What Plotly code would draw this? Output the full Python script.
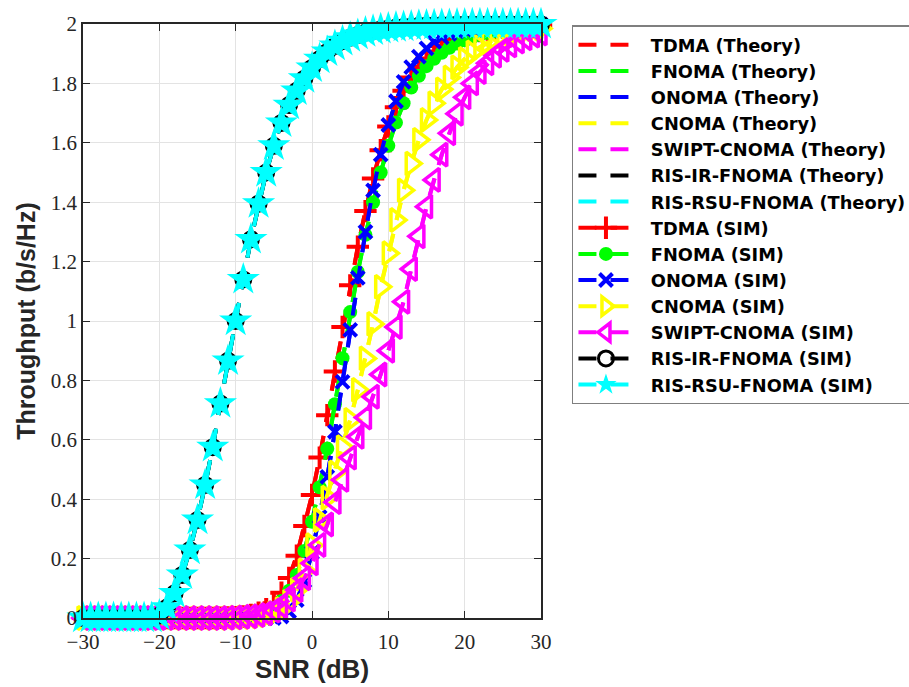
import plotly.graph_objects as go

# SNR grid (dB)
snr_db = list(range(-30, 31))

# Throughput (b/s/Hz) per scheme, one value per SNR point
tdma = [0]*18 + [0.001, 0.002, 0.003, 0.005, 0.010, 0.018, 0.030, 0.050, 0.085, 0.135,
                 0.210, 0.310, 0.414, 0.540, 0.683, 0.830, 0.980, 1.120, 1.250, 1.370,
                 1.480, 1.575, 1.655, 1.720, 1.775, 1.820, 1.855, 1.884, 1.907, 1.926,
                 1.941, 1.953, 1.962, 1.970, 1.976, 1.981, 1.985, 1.988, 1.990, 1.992,
                 1.994, 1.995, 1.996]
fnoma = [0]*19 + [0.001, 0.002, 0.003, 0.006, 0.011, 0.020, 0.034, 0.057, 0.092, 0.145,
                  0.226, 0.324, 0.440, 0.570, 0.720, 0.875, 1.030, 1.165, 1.290, 1.400,
                  1.500, 1.590, 1.668, 1.733, 1.786, 1.826, 1.858, 1.883, 1.903, 1.920,
                  1.934, 1.945, 1.955, 1.963, 1.970, 1.975, 1.980, 1.984, 1.987, 1.990,
                  1.992, 1.994]
onoma = [0]*26 + [0.005, 0.022, 0.060, 0.125, 0.220, 0.340, 0.475, 0.627, 0.795, 0.970,
                  1.145, 1.300, 1.440, 1.560, 1.660, 1.740, 1.805, 1.855, 1.890, 1.918,
                  1.940, 1.955, 1.967, 1.975, 1.981, 1.986, 1.989, 1.992, 1.994, 1.995,
                  1.996, 1.997, 1.998, 1.998, 1.999]
cnoma = [0]*20 + [0.001, 0.002, 0.003, 0.005, 0.009, 0.016, 0.030, 0.055, 0.095, 0.160,
                  0.245, 0.330, 0.405, 0.490, 0.575, 0.667, 0.768, 0.874, 0.990, 1.115,
                  1.228, 1.340, 1.440, 1.530, 1.610, 1.677, 1.733, 1.780, 1.820, 1.854,
                  1.882, 1.904, 1.922, 1.937, 1.949, 1.959, 1.967, 1.973, 1.978, 1.982,
                  1.985]
swipt_cnoma = [0]*19 + [0.001, 0.002, 0.004, 0.006, 0.010, 0.016, 0.025, 0.040, 0.062, 0.094,
                        0.134, 0.184, 0.246, 0.315, 0.390, 0.465, 0.540, 0.610, 0.675, 0.745,
                        0.820, 0.900, 0.980, 1.065, 1.175, 1.285, 1.385, 1.475, 1.560, 1.632,
                        1.698, 1.753, 1.800, 1.838, 1.868, 1.893, 1.913, 1.928, 1.941, 1.952,
                        1.961, 1.968]
ris_ir_fnoma = [0]*10 + [0.008, 0.035, 0.083, 0.145, 0.229, 0.330, 0.448, 0.575, 0.722, 0.866,
                         1.000, 1.140, 1.275, 1.395, 1.500, 1.590, 1.667, 1.727, 1.775, 1.816,
                         1.852, 1.882, 1.906, 1.926, 1.942, 1.954, 1.963, 1.971, 1.977, 1.982,
                         1.985, 1.988, 1.990, 1.992, 1.994, 1.995, 1.996, 1.997, 1.997, 1.998,
                         1.998] + [1.999]*10
ris_rsu_fnoma = [0]*10 + [0.008, 0.035, 0.083, 0.145, 0.229, 0.330, 0.448, 0.575, 0.722, 0.866,
                          1.000, 1.140, 1.275, 1.395, 1.500, 1.590, 1.667, 1.727, 1.775, 1.816,
                          1.852, 1.882, 1.906, 1.926, 1.942, 1.954, 1.963, 1.971, 1.977, 1.982,
                          1.985, 1.988, 1.990, 1.992, 1.994, 1.995, 1.996, 1.997, 1.997, 1.998,
                          1.998] + [1.999]*10

schemes = ["TDMA", "FNOMA", "ONOMA", "CNOMA", "SWIPT-CNOMA", "RIS-IR-FNOMA", "RIS-RSU-FNOMA"]
series = [tdma, fnoma, onoma, cnoma, swipt_cnoma, ris_ir_fnoma, ris_rsu_fnoma]
colors = ["#FF0000", "#00FF00", "#0000FF", "#FFFF00", "#FF00FF", "#000000", "#00FFFF"]

# marker style for the simulated curves: (symbol, size, outline width)
markers = [
    ("cross-thin", 16, 4),
    ("circle", 14, 0),
    ("x-thin", 13, 4),
    ("triangle-right-open", 20, 3.5),
    ("triangle-left-open", 20, 3.5),
    ("circle-open", 15, 3),
    ("star", 25, 0),
]

DASH = "18px,14px"
LW = 4
PAD = "\u00a0\u00a0"  # gap between legend symbol and label

fig = go.Figure()

for name, y, c in zip(schemes, series, colors):
    fig.add_trace(go.Scatter(
        x=snr_db, y=y, mode="lines", name=f"{PAD}{name} (Theory)",
        line=dict(color=c, width=LW, dash=DASH), cliponaxis=False,
    ))

for name, y, c, (sym, size, mlw) in zip(schemes, series, colors, markers):
    fig.add_trace(go.Scatter(
        x=snr_db, y=y, mode="lines+markers", name=f"{PAD}{name} (SIM)",
        line=dict(color=c, width=LW, dash=DASH),
        marker=dict(symbol=sym, size=size, color=c, line=dict(color=c, width=mlw)),
        cliponaxis=False,
    ))

axis_common = dict(
    showline=True, linecolor="#262626", linewidth=1.5, mirror="allticks",
    ticks="inside", ticklen=7, tickwidth=1.2, tickcolor="#262626",
    showgrid=True, gridcolor="#E3E3E3", gridwidth=1, zeroline=False,
    tickfont=dict(family="Liberation Serif", size=21, color="#262626"),
)

fig.update_xaxes(
    range=[-30, 30], tickmode="array", tickvals=[-30, -20, -10, 0, 10, 20, 30],
    ticklabelstandoff=4,
    title=dict(text="<b>SNR (dB)</b>", font=dict(family="Liberation Sans", size=26, color="#262626"), standoff=6),
    **axis_common,
)
fig.update_yaxes(
    range=[0, 2], tickmode="array", tickvals=[0, 0.2, 0.4, 0.6, 0.8, 1, 1.2, 1.4, 1.6, 1.8, 2],
    ticktext=["0", "0.2", "0.4", "0.6", "0.8", "1", "1.2", "1.4", "1.6", "1.8", "2"],
    title=dict(text="<b>Throughput (b/s/Hz)</b>", font=dict(family="Liberation Sans", size=25, color="#262626"), standoff=8),
    **axis_common,
)

fig.update_layout(
    width=909, height=687,
    margin=dict(l=82.5, r=368, t=24, b=69, autoexpand=False),
    paper_bgcolor="white", plot_bgcolor="white",
    showlegend=True,
    legend=dict(
        x=1.0676, y=0.998, xanchor="left", yanchor="top",
        bgcolor="white", bordercolor="#7F7F7F", borderwidth=1.5,
        font=dict(family="DejaVu Sans", size=17.8, color="#000000", weight="bold"),
        itemwidth=55, tracegroupgap=0,
        itemsizing="trace",
    ),
)

fig.write_html("out.html")
